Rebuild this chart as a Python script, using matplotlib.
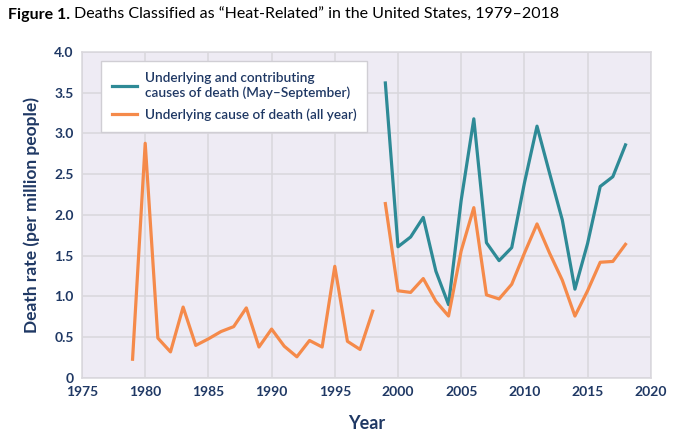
import matplotlib
matplotlib.use("Agg")
import matplotlib.pyplot as plt
import numpy as np

# Underlying cause of death, all year (1979-2018)
years_all = list(range(1979, 2019))
underlying = [0.23, 2.88, 0.49, 0.32, 0.87, 0.40, 0.48, 0.57, 0.63, 0.86,
              0.38, 0.60, 0.39, 0.26, 0.46, 0.38, 1.37, 0.45, 0.35, 0.82,
              2.14, 1.07, 1.05, 1.22, 0.94, 0.76, 1.56, 2.09, 1.02, 0.97,
              1.15, 1.53, 1.89, 1.53, 1.20, 0.76, 1.07, 1.42, 1.43, 1.64]

# Underlying and contributing causes, May-September (1999-2018)
years_summer = list(range(1999, 2019))
contributing = [3.62, 1.61, 1.73, 1.97, 1.31, 0.90, 2.18, 3.18, 1.66, 1.44,
                1.60, 2.39, 3.09, 2.51, 1.94, 1.09, 1.65, 2.35, 2.47, 2.86]

xticks = [1975, 1980, 1985, 1990, 1995, 2000, 2005, 2010, 2015, 2020]
yticks = [0, 0.5, 1.0, 1.5, 2.0, 2.5, 3.0, 3.5, 4.0]
ytick_labels = ['0', '0.5', '1.0', '1.5', '2.0', '2.5', '3.0', '3.5', '4.0']

NAVY = '#1F3864'
TEAL = '#2E8A96'
ORANGE = '#F58A4A'

plt.rcParams['font.family'] = ['Lato', 'DejaVu Sans']

fig = plt.figure(figsize=(6.8, 4.41), dpi=100)
ax = fig.add_axes([0.1206, 0.1429, 0.8364, 0.7392])

ax.set_facecolor('#EEEBF4')
ax.plot(years_summer, contributing, color=TEAL, linewidth=2.3,
        label='Underlying and contributing\ncauses of death (May\u2013September)')
# split the all-year series at the 1998/1999 coding change
split = years_all.index(1999)
ax.plot(years_all[:split], underlying[:split], color=ORANGE, linewidth=2.3,
        label='Underlying cause of death (all year)')
ax.plot(years_all[split:], underlying[split:], color=ORANGE, linewidth=2.3)

ax.set_xlim(1975, 2020)
ax.set_ylim(0, 4.0)
ax.set_xticks(xticks)
ax.set_yticks(yticks)
ax.set_yticklabels(ytick_labels)
ax.grid(True, color='#D9D7DC', linewidth=1.1)
ax.set_axisbelow(True)
for spine in ax.spines.values():
    spine.set_color('#D9D7DC')
    spine.set_linewidth(1.1)
ax.tick_params(length=0, labelsize=10, labelcolor=NAVY, pad=6)
for lbl in ax.get_xticklabels() + ax.get_yticklabels():
    lbl.set_fontweight('bold')

ax.set_xlabel('Year', fontsize=13, fontweight='bold', color=NAVY, labelpad=12)
ax.set_ylabel('Death rate (per million people)', fontsize=12.5,
              fontweight='bold', color=NAVY, labelpad=10)

leg = ax.legend(loc='upper left', bbox_to_anchor=(0.022, 0.992), fancybox=False,
                framealpha=1, edgecolor='#D0CED4', fontsize=9.8,
                handlelength=1.8, handletextpad=0.6, borderpad=0.8,
                labelspacing=0.7)
for t in leg.get_texts():
    t.set_color(NAVY)
    t.set_fontweight('semibold')
leg.get_frame().set_linewidth(1.0)

# title: bold "Figure 1." followed by regular text
fig.canvas.draw()
t1 = fig.text(0.012, 0.967, 'Figure 1.', fontsize=11.5, fontweight='bold',
              color='black', va='center')
bb = t1.get_window_extent(fig.canvas.get_renderer())
fig.text(bb.x1 / fig.bbox.width + 0.006, 0.967,
         'Deaths Classified as \u201cHeat-Related\u201d in the United States, 1979\u20132018',
         fontsize=11.5, color='black', va='center')

fig.savefig('out.png', dpi=100, facecolor='white')
